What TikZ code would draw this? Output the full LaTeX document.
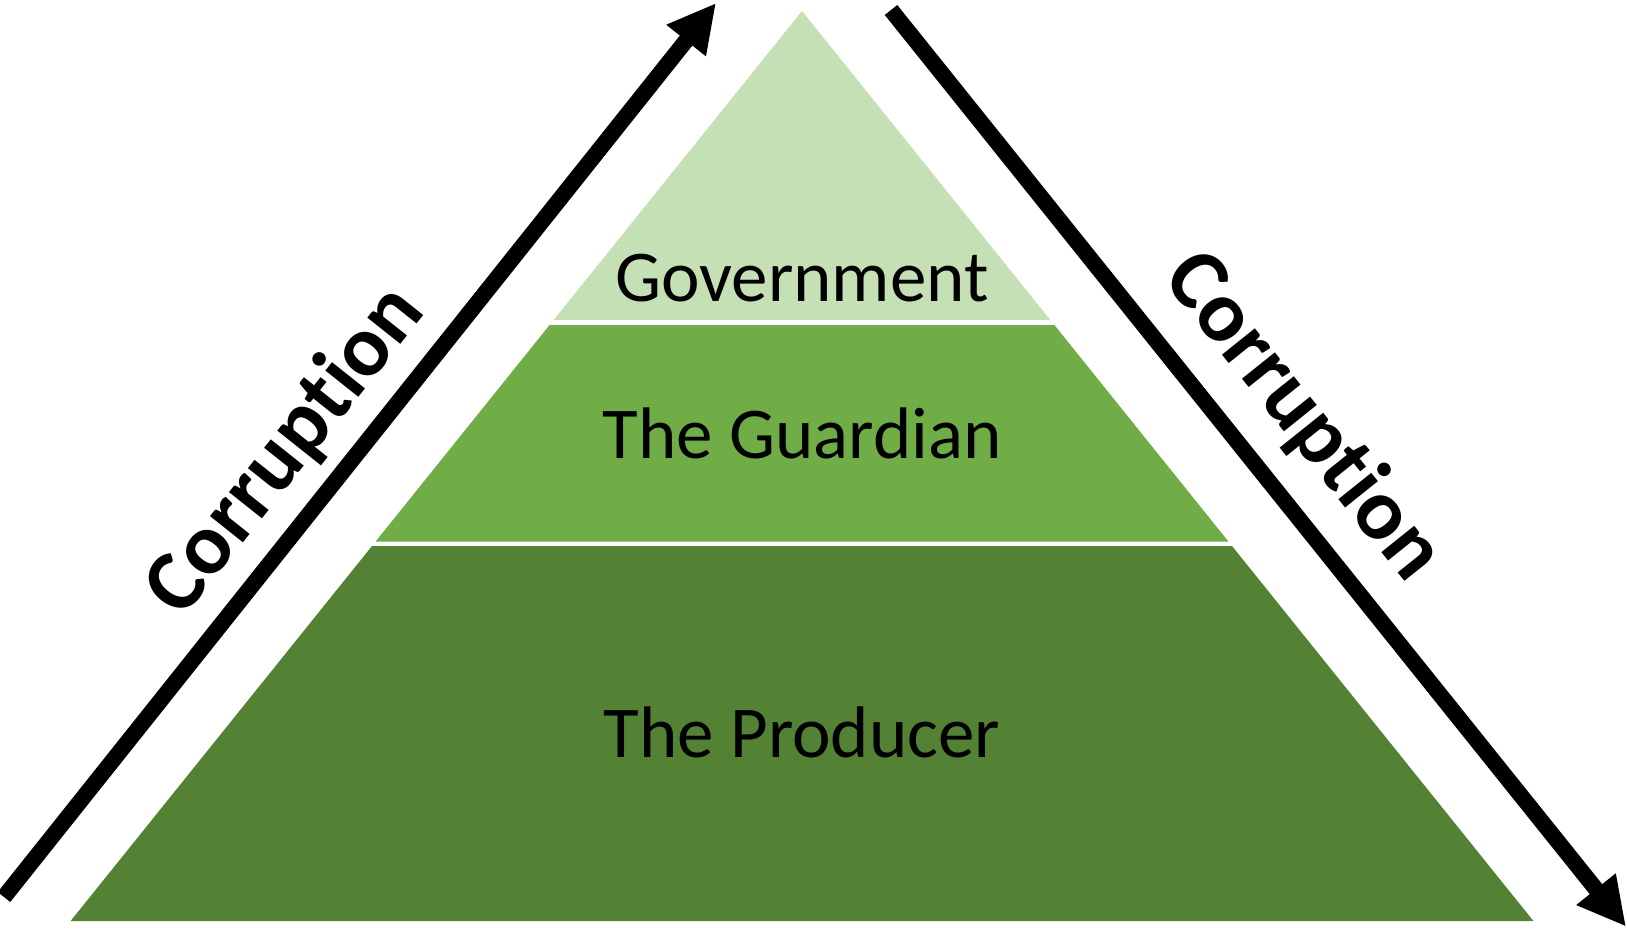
\documentclass[tikz,border=0pt]{standalone}
\usepackage{fontspec}
\setmainfont{Carlito}[Ligatures={NoCommon}]
\usetikzlibrary{arrows.meta}
\definecolor{gLight}{HTML}{C5E0B4}
\definecolor{gMid}{HTML}{70AD47}
\definecolor{gDark}{HTML}{548235}
\tikzset{
  layertext/.style={inner sep=0pt, text=black, font=\fontsize{73}{80}\selectfont},
  corrtext/.style={inner sep=0pt, text=black, font=\fontsize{87}{95}\selectfont\bfseries},
  bigarrow/.style={line width=16pt, -{Triangle[length=48pt, width=47pt]}}
}
\begin{document}
\begin{tikzpicture}[x=1pt, y=-1pt]
\useasboundingbox (0,0) rectangle (1627,929);
% layers
\fill[gLight] (802,11) -- (1050.3,320) -- (553.7,320) -- cycle;
\fill[gMid] (549.6,325) -- (1054.4,325) -- (1228.4,541.5) -- (375.6,541.5) -- cycle;
\fill[gDark] (372,546) -- (1232,546) -- (1533.4,921) -- (70.6,921) -- cycle;
% texts
\node[layertext] (gov) at (802,278) {Government};
\node[layertext] (guard) at (802,433) {The Guardian};
\node[layertext] (prod) at (802,732) {The Producer};
% arrows
\coordinate (lTail) at (4,897);
\coordinate (lTip) at (716,3);
\coordinate (rTail) at (891,10);
\coordinate (rTip) at (1626,926.6);
\draw[bigarrow] (lTail) -- (lTip);
\draw[bigarrow] (rTail) -- (rTip);
\node[corrtext, rotate=51.5] (corrL) at (286,451) {Corruption};
\node[corrtext, rotate=-51.3] (corrR) at (1303,417) {Corruption};
\end{tikzpicture}
\end{document}
